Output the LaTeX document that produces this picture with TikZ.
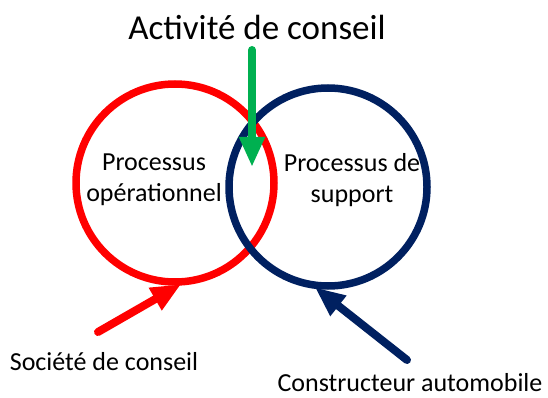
\documentclass[tikz,border=0pt]{standalone}
\usepackage{fontspec}
\setmainfont{Carlito}
\usetikzlibrary{arrows.meta,positioning}
\definecolor{opColor}{HTML}{FF0000}
\definecolor{suColor}{HTML}{002060}
\definecolor{coColor}{HTML}{00B050}
\tikzset{
	ring/.style={circle, draw, line width=7.5pt, minimum size=198pt, inner sep=0},
	fleche/.style={line width=8pt, line cap=round, -{Triangle[length=30pt,width=24pt]}},
	lab/.style={align=center, font=\fontsize{26}{31}\selectfont, inner sep=0}
}
\begin{document}
\begin{tikzpicture}[x=1pt, y=-1pt]
		\useasboundingbox (0,0) rectangle (548,398);
		\node[ring, opColor] (op) at (175, 183) {};
		\node[ring, suColor] (su) at (328, 187) {};
		\node[lab] (op_t) at (154, 180) {Processus\\opérationnel};
		\node[lab] (su_t) at (352, 180) {Processus de\\support};
		\node[lab, font=\fontsize{35}{40}\selectfont] (titre) at (257, 27) {Activité de conseil};
		\node[lab] (societe) at (104, 362) {Société de conseil};
		\node[lab] (constr) at (410, 383) {Constructeur automobile};
		\coordinate (g0) at (252, 50);
		\coordinate (g1) at (252, 167);
		\coordinate (r0) at (98, 332);
		\coordinate (b0) at (407, 360);
		\draw[fleche, opColor, shorten >=-3pt] (r0) -- (op.-88);
		\draw[fleche, suColor, shorten >=-3pt] (b0) -- (su.-96);
		\draw[fleche, coColor, line cap=round] (g0) -- (g1);
	\end{tikzpicture}
\end{document}
